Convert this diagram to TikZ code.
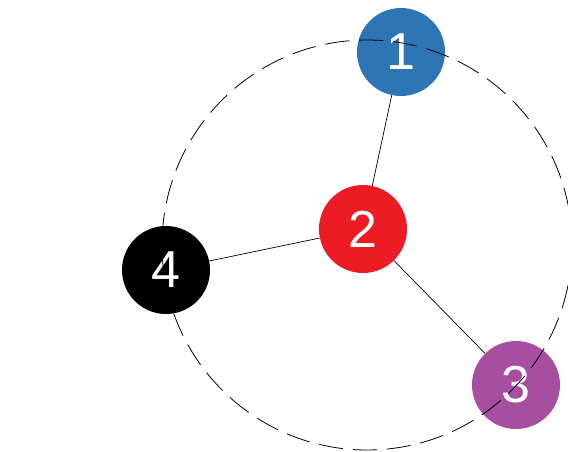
\documentclass[tikz,border=0pt]{standalone}
\usepackage{fontspec}
\setmainfont{Liberation Sans}
\usepackage{tikz}
\usetikzlibrary{positioning}

\definecolor{nodeBlue}{RGB}{46,117,182}
\definecolor{nodeRed}{RGB}{237,28,36}
\definecolor{nodePurple}{RGB}{166,78,160}

\begin{document}
\begin{tikzpicture}[
                x=1pt, y=-1pt,
                % Node Styles
                vertex/.style = {circle, minimum size=88pt, inner sep=0pt, text=white, font=\fontsize{52}{52}\selectfont},
                % Line Styles
                edgeLine/.style = {line width=0.7pt, draw=black},
                orbitLine/.style = {line width=0.8pt, draw=black, dash pattern=on 24pt off 10pt}
            ]
                \useasboundingbox (0,0) rectangle (568,452);

                % ==========================================
                % VERTICES
                % ==========================================
                \node[vertex, fill=nodeBlue] (V1) at (401,52) {1};
                \node[vertex, fill=nodeRed] (V2) at (363,229) {2};
                \node[vertex, fill=nodePurple] (V3) at (516,385) {3};
                \node[vertex, fill=black] (V4) at (166,270) {4};

                % ==========================================
                % EDGES
                % ==========================================
                \path[edgeLine] (V2) -- (V1);
                \path[edgeLine] (V2) -- (V3);
                \path[edgeLine] (V2) -- (V4);

                % ==========================================
                % ORBIT (drawn over the vertices)
                % ==========================================
                \coordinate (Mid) at (367,245);
                \draw[orbitLine] (Mid) circle[radius=205pt];

            \end{tikzpicture}
\end{document}
